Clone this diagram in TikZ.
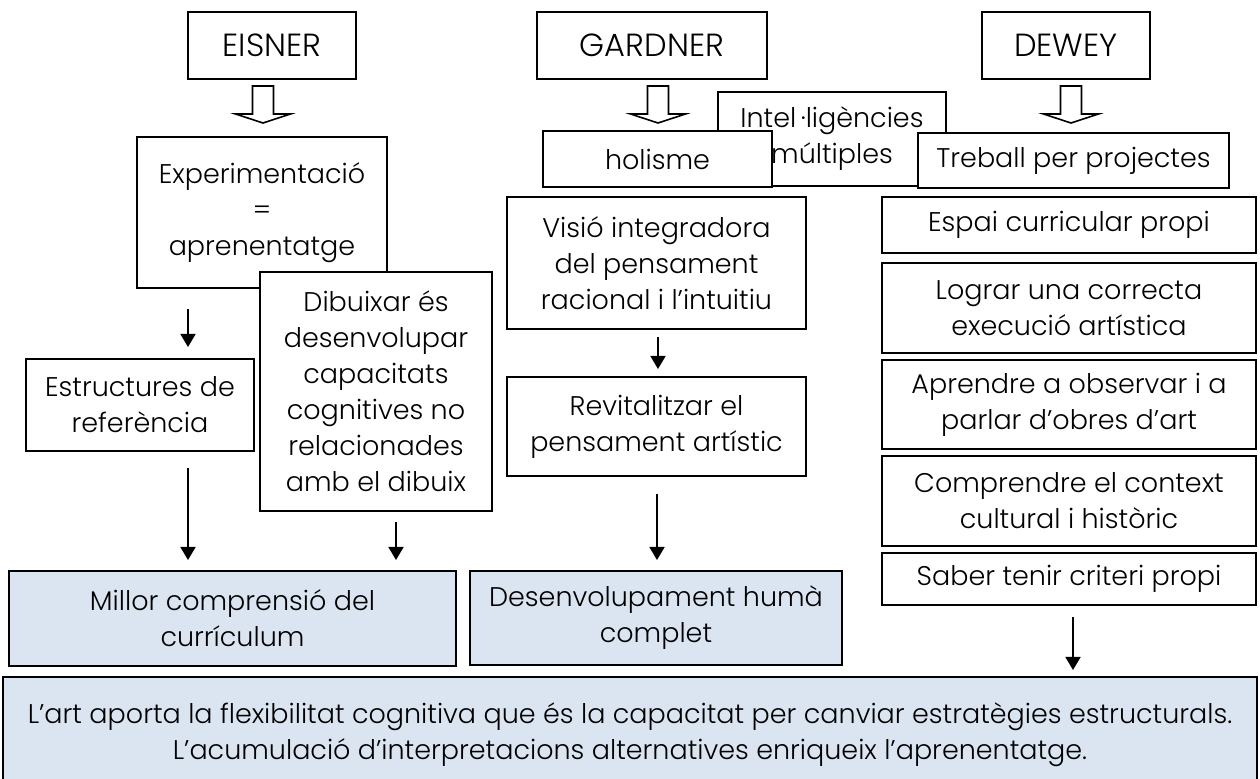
\documentclass[tikz,border=0pt]{standalone}
\usepackage{fontspec}
\setmainfont{Poppins Light}
\usepackage{xcolor}
\usetikzlibrary{arrows.meta,positioning,calc}
\definecolor{resBlue}{HTML}{DBE5F1}
\tikzset{hollowdown/.pic={\path[hollow] (-10.5,0) -- (10.5,0) -- (10.5,28) -- (27.5,28) -- (0,37) -- (-27.5,28) -- (-10.5,28) -- cycle;}}

\begin{document}
\begin{tikzpicture}[
x=0.5pt, y=-0.5pt,
every node/.style={font=\fontsize{13.5}{18}\selectfont},
box/.style={draw, fill=white, line width=0.9pt, align=center, inner sep=0pt, outer sep=0pt},
hdr/.style={box, font=\fontsize{16}{19}\selectfont},
res/.style={box, fill=resBlue},
arr/.style={-{Triangle[width=7.5pt,length=6.5pt]}, line width=0.9pt},
hollow/.style={draw, fill=white, line width=0.8pt, line join=miter}
]
\useasboundingbox (0,0) rectangle (1260,779);

% Authors
\node[hdr, minimum width=84pt, minimum height=33.5pt] (eisner) at (272,45.5) {EISNER};
\node[hdr, minimum width=115pt, minimum height=33.5pt] (gardner) at (652,45.5) {GARDNER};
\node[hdr, minimum width=84pt, minimum height=33.5pt] (dewey) at (1066,45.5) {DEWEY};
\pic at ([xshift=-4.5pt,yshift=-3.5pt]eisner.south) {hollowdown};
\pic at ([xshift=3pt,yshift=-3.5pt]gardner.south) {hollowdown};
\pic at ([xshift=2.5pt,yshift=-3.5pt]dewey.south) {hollowdown};

% Eisner column
\node[box, minimum width=125pt, minimum height=75.5pt] (exper) at (262,212.5) {Experimentació\\=\\aprenentatge};
\node[box, minimum width=114pt, minimum height=46pt] (estruct) at (140,405) {Estructures de\\referència};
\node[box, minimum width=116pt, minimum height=119.5pt] (dibuix) at (376,391.5) {Dibuixar és\\desenvolupar\\capacitats\\cognitives no\\relacionades\\amb el dibuix};
\draw[arr] ([xshift=-37pt,yshift=-10.5pt]exper.south) -- ([xshift=24pt,yshift=6pt]estruct.north);

% Gardner column
\node[box, minimum width=114pt, minimum height=47pt] (intel) at (832,139) {Intel\,·ligències\\múltiples};
\node[box, minimum width=114.5pt, minimum height=28pt] (holisme) at (657.5,159) {holisme};
\node[box, minimum width=149.5pt, minimum height=66pt] (visio) at (656.5,263) {Visió integradora\\del pensament\\racional i l’intuitiu};
\node[box, minimum width=149.5pt, minimum height=49.5pt] (revital) at (656.5,426.5) {Revitalitzar el\\pensament artístic};
\draw[arr] ([xshift=0.75pt,yshift=-4pt]visio.south) -- ([xshift=0.75pt,yshift=4pt]revital.north);

% Dewey column
\node[box, minimum width=155.5pt, minimum height=27.5pt] (treball) at (1073.5,160.5) {Treball per projectes};
\node[box, minimum width=187pt, minimum height=28pt] (espai) at (1069,225) {Espai curricular propi};
\node[box, minimum width=187pt, minimum height=45pt] (lograr) at (1069,308) {Lograr una correcta\\execució artística};
\node[box, minimum width=187pt, minimum height=44.5pt] (aprendre) at (1069,404.5) {Aprendre a observar i a\\parlar d’obres d’art};
\node[box, minimum width=187pt, minimum height=45pt] (comprendre) at (1069,501) {Comprendre el context\\cultural i històric};
\node[box, minimum width=187pt, minimum height=26pt] (saber) at (1069,579) {Saber tenir criteri propi};

% Results
\node[res, minimum width=223.5pt, minimum height=47.5pt] (millor) at (232.5,618.5) {Millor comprensió del\\currículum};
\node[res, minimum width=186pt, minimum height=47pt] (desenv) at (656,618) {Desenvolupament humà\\complet};
\node[res, minimum width=627pt, minimum height=57.5pt] (conclusio) at (630,734.5) {L’art aporta la flexibilitat cognitiva que és la capacitat per canviar estratègies estructurals.\\L’acumulació d’interpretacions alternatives enriqueix l’aprenentatge.};

\draw[arr] ([xshift=24pt,yshift=-8.5pt]estruct.south) -- ([xshift=-22.25pt,yshift=5.5pt]millor.north);
\draw[arr] ([xshift=10pt,yshift=-5.5pt]dibuix.south) -- ([xshift=81.75pt,yshift=5.5pt]millor.north);
\draw[arr] ([xshift=0.25pt,yshift=-9pt]revital.south) -- ([xshift=0.5pt,yshift=5.5pt]desenv.north);
\draw[arr] ([xshift=2pt,yshift=-6pt]saber.south) -- ([xshift=221.5pt,yshift=3.5pt]conclusio.north);
\end{tikzpicture}
\end{document}
